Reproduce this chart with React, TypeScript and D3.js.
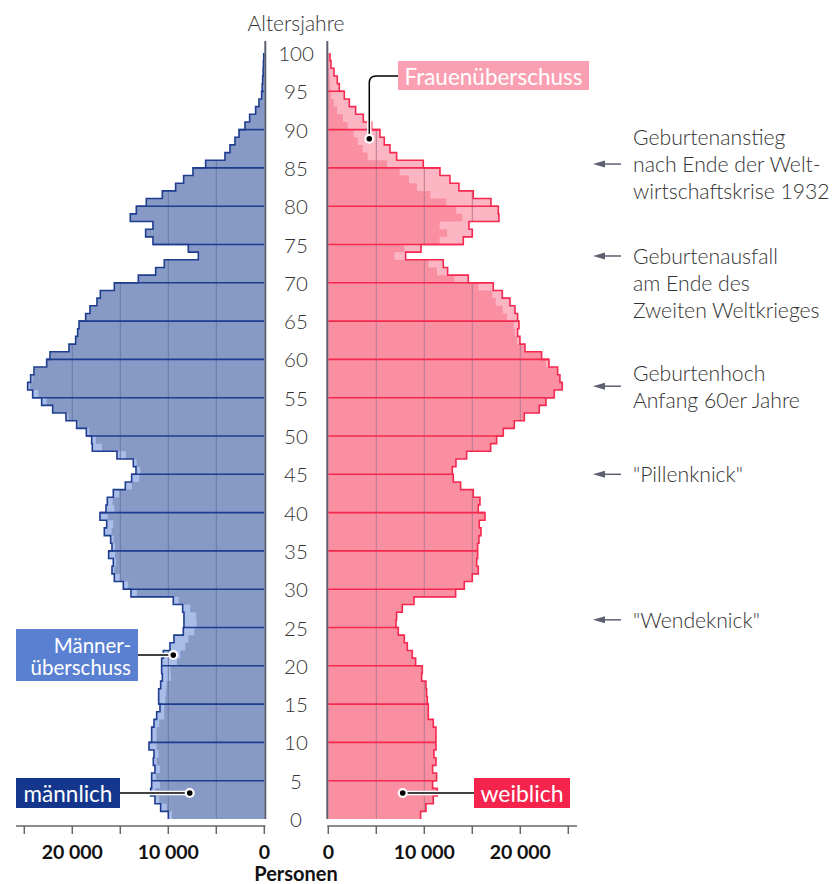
import React from 'react';
import * as d3 from 'd3';

// Population by single year of age (index = age 0..99)
const male = [
  10000, 10798, 11388, 11840, 11735, 11735, 11388, 11562, 11492, 12013,
  11735, 11735, 11492, 11215, 10867, 11006, 11006, 10798, 10624, 10694,
  10694, 10520, 9826, 9409, 8437, 8368, 8368, 8506, 9479, 13888,
  14687, 15624, 15867, 15728, 16214, 15867, 16006, 16666, 16422, 17117,
  16492, 16353, 15728, 14478, 13818, 13367, 13645, 15346, 17916, 17985,
  18540, 19547, 20658, 22047, 23193, 24130, 24651, 24339, 23992, 22672,
  22325, 20346, 19652, 19443, 19305, 18610, 18159, 17430, 17082, 15624,
  13124, 11319, 10416, 6875, 7916, 11597, 12361, 11597, 13958, 13333,
  12291, 10624, 9236, 8402, 7430, 6111, 4097, 3576, 3055, 2639,
  2014, 1528, 903, 556, 278, 220, 170, 120, 90, 60,
];
const female = [
  9618, 10173, 10937, 11353, 10867, 11284, 10867, 11215, 11006, 11215,
  11215, 11215, 10937, 10416, 10416, 10312, 10242, 10173, 9722, 9791,
  9097, 8749, 8229, 7916, 7291, 7048, 7118, 7708, 8923, 13263,
  14166, 14999, 15624, 15450, 15555, 15555, 15693, 15902, 15728, 16318,
  15624, 15798, 15103, 13784, 13020, 12916, 13298, 14409, 16909, 17534,
  18228, 19374, 20416, 21978, 22672, 23540, 24373, 24130, 23888, 22985,
  22221, 20485, 19964, 19721, 19860, 19721, 19443, 18922, 18124, 17186,
  14583, 12430, 11978, 8055, 9652, 14062, 14999, 14652, 17777, 17707,
  16943, 15103, 13610, 12673, 11631, 9895, 7118, 6423, 5833, 5382,
  4514, 3646, 2847, 2187, 1667, 1146, 937, 590, 278, 174,
];
const valueTicks = [0, 5000, 10000, 15000, 20000, 25000];
const valueTickLabels = ['0', '', '10 000', '', '20 000', ''];
const gridValues = [5000, 10000, 15000, 20000];
const ageTicks = d3.range(0, 101, 5);
const ageLines = d3.range(5, 100, 5);

const noteAges = [85.5, 73.5, 56.5, 45, 26];
const noteLines = [
  ['Geburtenanstieg', 'nach Ende der Welt-', 'wirtschaftskrise 1932'],
  ['Geburtenausfall', 'am Ende des', 'Zweiten Weltkrieges'],
  ['Geburtenhoch', 'Anfang 60er Jahre'],
  ['"Pillenknick"'],
  ['"Wendeknick"'],
];
const noteAnchorLine = [1, 0, 0.5, 0, 0];

const C = {
  mFill: '#8799c5', mEx: '#a9bde9', mLine: '#1e3d8e', mGrid: '#6a7aa6',
  fFill: '#f98fa0', fEx: '#fcb5c3', fLine: '#f5284f', fGrid: '#b47a90',
  axis: '#5c6070', text: '#333333',
};
const FONT = "'Source Sans Pro', Lato, 'Noto Sans', sans-serif";

type P = { a: number; v: number };

export default function App() {
  const yAge = d3.scaleLinear().domain([0, 100]).range([819, 53]);
  const xL = d3.scaleLinear().domain([0, 25000]).range([264.3, 24.3]);
  const xR = d3.scaleLinear().domain([0, 25000]).range([328.3, 568.3]);

  const minVals = male.map((m, i) => Math.min(m, female[i]));
  const stepPts = (vals: number[]): P[] => vals.flatMap((v, a) => [{ a, v }, { a: a + 1, v }]);
  const areaFor = (x: any, vals: number[]) =>
    d3.area<P>().x0(x(0)).x1((d) => x(d.v)).y((d) => yAge(d.a))(stepPts(vals)) || '';
  const lineFor = (x: any, vals: number[]) =>
    d3.line<P>().x((d) => x(d.v)).y((d) => yAge(d.a))(stepPts(vals)) || '';

  const side = (key: string, x: any, vals: number[], fill: string, ex: string, lc: string, gc: string) => (
    <g key={key}>
      <defs>
        <clipPath id={'clip' + key}>
          <path d={areaFor(x, vals)} />
        </clipPath>
      </defs>
      <path d={areaFor(x, vals)} fill={ex} />
      <path d={areaFor(x, minVals)} fill={fill} />
      <g clipPath={`url(#clip${key})`}>
        {gridValues.map((g) => (
          <line key={g} x1={x(g)} x2={x(g)} y1={yAge(0)} y2={yAge(100)} stroke={gc} strokeWidth={1} />
        ))}
      </g>
      {ageLines.map((a) => (
        <line key={a} x1={x(0)} x2={x(Math.max(vals[a - 1], vals[a]))} y1={yAge(a)} y2={yAge(a)} stroke={lc} strokeWidth={1.6} />
      ))}
      <path d={lineFor(x, vals)} fill="none" stroke={lc} strokeWidth={1.6} />
    </g>
  );

  const axis = (key: string, x: any, x0: number, x1: number) => (
    <g key={key}>
      <line x1={x0} x2={x1} y1={826} y2={826} stroke="#666" strokeWidth={1.5} />
      {valueTicks.map((t, i) => (
        <g key={t}>
          <line x1={x(t)} x2={x(t)} y1={826} y2={834} stroke="#666" strokeWidth={1.5} />
          {valueTickLabels[i] && (
            <text x={x(t)} y={859} textAnchor="middle" fontSize={19.5} fontWeight={700} fill="#111" fontFamily={FONT}>
              {valueTickLabels[i]}
            </text>
          )}
        </g>
      ))}
    </g>
  );

  const dot = (cx: number, cy: number) => (
    <g>
      <circle cx={cx} cy={cy} r={5} fill="#fff" />
      <circle cx={cx} cy={cy} r={2.8} fill="#000" />
    </g>
  );

  const leader = (d: string) => (
    <g>
      <path d={d} fill="none" stroke="#fff" strokeWidth={4.5} />
      <path d={d} fill="none" stroke="#000" strokeWidth={1.5} />
    </g>
  );

  // annotation anchor points derived from scales
  const fDot = { x: xR(4270), y: yAge(88.8) };
  const mExDot = { x: xL(9480), y: yAge(21.4) };
  const mDot = { x: xL(7770), y: yAge(3.4) };
  const wDot = { x: xR(7750), y: yAge(3.4) };

  return (
    <svg width={838} height={884} style={{ position: 'absolute', left: 0, top: 0, display: 'block', background: '#fff' }} fontFamily={FONT}>
      <rect width={838} height={884} fill="#fff" />
      {side('M', xL, male, C.mFill, C.mEx, C.mLine, C.mGrid)}
      {side('F', xR, female, C.fFill, C.fEx, C.fLine, C.fGrid)}

      {/* center axes */}
      <line x1={265.3} x2={265.3} y1={41} y2={yAge(0)} stroke={C.axis} strokeWidth={2} />
      <line x1={327.3} x2={327.3} y1={41} y2={yAge(0)} stroke={C.axis} strokeWidth={2} />
      <text x={296} y={22} textAnchor="middle" dominantBaseline="central" fontSize={21} fontWeight={300} fill={C.text}>Altersjahre</text>
      {ageTicks.map((a) => (
        <text key={a} x={296} y={yAge(a)} textAnchor="middle" dominantBaseline="central" fontSize={20.5} fontWeight={300} fill={C.text}>
          {a}
        </text>
      ))}

      {axis('aL', xL, 16, 265.3)}
      {axis('aR', xR, 327.3, 577)}
      <text x={296} y={881} textAnchor="middle" fontSize={20} fontWeight={700} fill="#111">Personen</text>

      {/* notes */}
      {noteAges.map((age, i) => {
        const ay = yAge(age);
        return (
          <g key={i}>
            <line x1={603} x2={621} y1={ay} y2={ay} stroke={C.axis} strokeWidth={1.5} />
            <path d={`M593,${ay} L605,${ay - 3.5} L605,${ay + 3.5} Z`} fill={C.axis} />
            {noteLines[i].map((t, j) => (
              <text key={j} x={633} y={ay + (j - noteAnchorLine[i]) * 27} dominantBaseline="central" fontSize={21.2} fontWeight={300} fill={C.text}>
                {t}
              </text>
            ))}
          </g>
        );
      })}

      {/* Frauenüberschuss */}
      {leader(`M398,76 L376,76 Q${fDot.x},76 ${fDot.x},83 L${fDot.x},${fDot.y}`)}
      {dot(fDot.x, fDot.y)}
      <rect x={398} y={61} width={191} height={29} fill="#fba0b2" />
      <text x={493.5} y={76} textAnchor="middle" dominantBaseline="central" fontSize={22.5} fill="#fff">Frauenüberschuss</text>

      {/* Männerüberschuss */}
      {leader(`M138,655 L${mExDot.x},${mExDot.y}`)}
      {dot(mExDot.x, mExDot.y)}
      <rect x={16} y={629} width={122} height={52} fill="#5a80d2" />
      <text x={131} y={645} textAnchor="end" dominantBaseline="central" fontSize={20.5} fill="#fff">Männer-</text>
      <text x={131} y={667} textAnchor="end" dominantBaseline="central" fontSize={20.5} fill="#fff">überschuss</text>

      {/* männlich */}
      {leader(`M120,${mDot.y} L${mDot.x},${mDot.y}`)}
      {dot(mDot.x, mDot.y)}
      <rect x={16} y={778} width={104} height={30} fill="#14378d" />
      <text x={68} y={793} textAnchor="middle" dominantBaseline="central" fontSize={22.5} fill="#fff">männlich</text>

      {/* weiblich */}
      {leader(`M${wDot.x},${wDot.y} L474,${wDot.y}`)}
      {dot(wDot.x, wDot.y)}
      <rect x={474} y={778} width={96} height={30} fill="#f5244c" />
      <text x={522} y={793} textAnchor="middle" dominantBaseline="central" fontSize={23} fill="#fff">weiblich</text>
    </svg>
  );
}
